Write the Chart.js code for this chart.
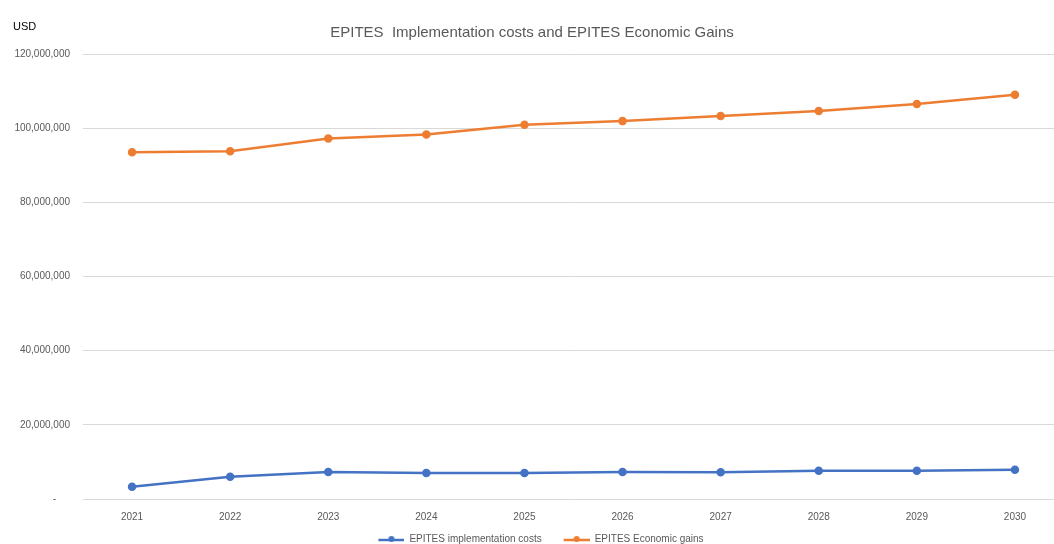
<!DOCTYPE html>
<html>
<head>
<meta charset="utf-8">
<script src="https://cdn.jsdelivr.net/npm/chart.js@4/dist/chart.umd.min.js"></script>
<style>
  html, body { margin: 0; padding: 0; background: #fff; overflow: hidden; }
  #wrap { position: absolute; left: 0; top: 0; width: 1084px; height: 544px; }
</style>
</head>
<body>
<div id="wrap"><canvas id="myChart" width="1084" height="544"></canvas></div>
<script>
  const years = ['2021', '2022', '2023', '2024', '2025', '2026', '2027', '2028', '2029', '2030']
  const implementationCosts = [3300000, 6000000, 7300000, 7000000, 7000000, 7300000, 7200000, 7600000, 7600000, 7900000]
  const economicGains = [93500000, 93800000, 97200000, 98300000, 100900000, 101900000, 103300000, 104600000, 106500000, 109000000]
  const seriesNames = ['EPITES implementation costs', 'EPITES Economic gains']
  const seriesColors = ['#4472C4', '#ED7D31']

  Chart.defaults.font.family = "'Liberation Sans', Arial, sans-serif"
  Chart.defaults.color = '#595959'

  // legend marker: blank gap on the left, then a short line with a dot in the middle
  function legendMarker(color) {
    const c = document.createElement('canvas')
    c.width = 44
    c.height = 8
    const ctx = c.getContext('2d')
    ctx.strokeStyle = color
    ctx.lineWidth = 2.5
    ctx.beginPath()
    ctx.moveTo(18, 5)
    ctx.lineTo(44, 5)
    ctx.stroke()
    ctx.fillStyle = color
    ctx.beginPath()
    ctx.arc(31, 4, 3, 0, Math.PI * 2)
    ctx.fill()
    return c
  }

  const unitLabel = {
    id: 'unitLabel',
    afterDraw(chart) {
      const ctx = chart.ctx
      ctx.save()
      ctx.font = "11px 'Liberation Sans', Arial, sans-serif"
      ctx.fillStyle = '#000'
      ctx.textBaseline = 'middle'
      ctx.fillText('USD', 13, 27)
      ctx.restore()
    }
  }

  const data = {
    labels: years,
    datasets: [
      {
        label: seriesNames[0],
        data: implementationCosts,
        borderColor: seriesColors[0],
        backgroundColor: seriesColors[0],
        borderWidth: 2.5,
        pointRadius: 3,
        pointHoverRadius: 3,
        fill: false,
      },
      {
        label: seriesNames[1],
        data: economicGains,
        borderColor: seriesColors[1],
        backgroundColor: seriesColors[1],
        borderWidth: 2.5,
        pointRadius: 3,
        pointHoverRadius: 3,
        fill: false,
      },
    ],
  }

  const config = {
    type: 'line',
    data: data,
    plugins: [unitLabel],
    options: {
      responsive: false,
      devicePixelRatio: 1,
      animation: false,
      layout: { padding: { left: 0, right: 20, top: 0, bottom: -10 } },
      scales: {
        y: {
          min: 0,
          max: 120000000,
          border: { display: false },
          grid: { color: '#d9d9d9', drawTicks: false },
          afterFit(scale) { scale.width = 83 },
          ticks: {
            stepSize: 20000000,
            padding: 13,
            font: { size: 10 },
            callback: (v) => v === 0 ? '-     ' : v.toLocaleString('en-US'),
          },
        },
        x: {
          offset: true,
          border: { display: false },
          grid: { display: false, offset: true },
          afterFit(scale) { scale.height = 31 },
          ticks: { padding: 4, font: { size: 10 } },
        },
      },
      plugins: {
        title: {
          display: true,
          text: 'EPITES  Implementation costs and EPITES Economic Gains',
          font: { size: 15, weight: 'normal' },
          color: '#595959',
          padding: { top: 24, bottom: 12 },
        },
        legend: {
          position: 'bottom',
          labels: {
            usePointStyle: true,
            pointStyleWidth: 44,
            font: { size: 10 },
            color: '#595959',
            padding: 4,
            generateLabels(chart) {
              return chart.data.datasets.map((ds, i) => ({
                text: ds.label,
                pointStyle: legendMarker(seriesColors[i]),
                fillStyle: seriesColors[i],
                strokeStyle: seriesColors[i],
                lineWidth: 0,
                datasetIndex: i,
                hidden: false,
                fontColor: '#595959',
              }))
            },
          },
        },
        tooltip: { enabled: false },
      },
    },
  }

  const chart = new Chart(document.getElementById('myChart'), config)
</script>
</body>
</html>
